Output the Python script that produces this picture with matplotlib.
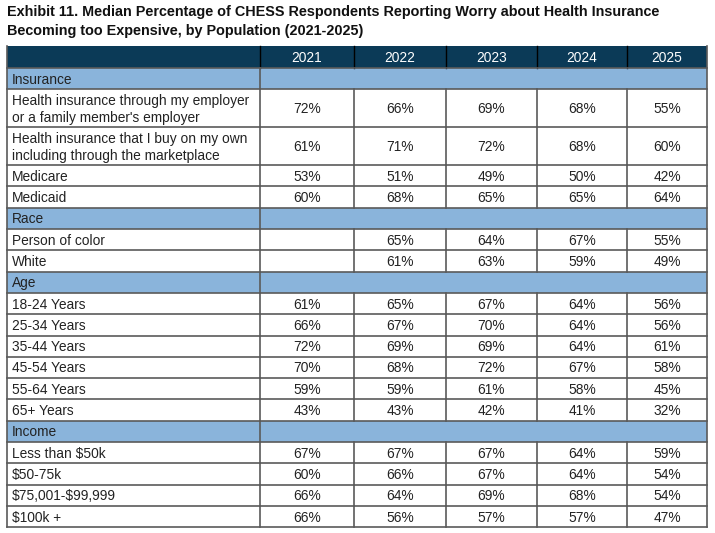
import matplotlib
matplotlib.use("Agg")
import matplotlib.pyplot as plt
from matplotlib.patches import Rectangle

# ---- data ----
years = ["2021", "2022", "2023", "2024", "2025"]

insurance_labels = ["Health insurance through my employer\nor a family member's employer",
                    "Health insurance that I buy on my own\nincluding through the marketplace",
                    "Medicare", "Medicaid"]
insurance_vals = [[72, 66, 69, 68, 55],
                  [61, 71, 72, 68, 60],
                  [53, 51, 49, 50, 42],
                  [60, 68, 65, 65, 64]]

race_labels = ["Person of color", "White"]
race_vals = [[None, 65, 64, 67, 55],
             [None, 61, 63, 59, 49]]

age_labels = ["18-24 Years", "25-34 Years", "35-44 Years", "45-54 Years", "55-64 Years", "65+ Years"]
age_vals = [[61, 65, 67, 64, 56],
            [66, 67, 70, 64, 56],
            [72, 69, 69, 64, 61],
            [70, 68, 72, 67, 58],
            [59, 59, 61, 58, 45],
            [43, 43, 42, 41, 32]]

income_labels = ["Less than $50k", "$50-75k", "$75,001-$99,999", "$100k +"]
income_vals = [[67, 67, 67, 64, 59],
               [60, 66, 67, 64, 54],
               [66, 64, 69, 68, 54],
               [66, 56, 57, 57, 47]]

sections = [("Insurance", insurance_labels, insurance_vals),
            ("Race", race_labels, race_vals),
            ("Age", age_labels, age_vals),
            ("Income", income_labels, income_vals)]

title = ("Exhibit 11. Median Percentage of CHESS Respondents Reporting Worry about Health Insurance\n"
         "Becoming too Expensive, by Population (2021-2025)")

# ---- layout (pixels) ----
W, H = 715, 533
col_edges = [7, 260, 354, 446, 537, 627, 707]
top = 46
row_h = 21.3
head_h = 22
navy = "#0b3a57"
blue = "#8ab4db"
grid_c = "#5a5a5a"
txt_c = "#222222"
font = "Liberation Sans"
fs = 9.9

fig = plt.figure(figsize=(W / 100, H / 100), dpi=100)
ax = fig.add_axes([0, 0, 1, 1])
ax.set_xlim(0, W)
ax.set_ylim(H, 0)
ax.axis("off")

ax.text(7, 5, title, ha="left", va="top", fontsize=10.4, fontweight="bold",
        family=font, color="#111111", linespacing=1.45)

x0, x1 = col_edges[0], col_edges[-1]

# header
ax.add_patch(Rectangle((x0, top), x1 - x0, head_h, facecolor=navy, edgecolor="none"))
for j, yr in enumerate(years):
    cx = (col_edges[j + 1] + col_edges[j + 2]) / 2
    ax.text(cx, top + head_h / 2 + 1, yr, ha="center", va="center", color="white",
            fontsize=fs, family=font)
for xe in col_edges[1:-1]:
    ax.plot([xe, xe], [top, top + head_h], color="black", lw=1)

y = top + head_h
for name, labels, vals in sections:
    ax.add_patch(Rectangle((x0, y), x1 - x0, row_h, facecolor=blue, edgecolor="none"))
    ax.text(x0 + 5, y + row_h / 2 + 1, name, ha="left", va="center", color=txt_c,
            fontsize=fs, family=font)
    ax.plot([x0, x1], [y, y], color=grid_c, lw=1.2)
    ax.plot([col_edges[1]] * 2, [y, y + row_h], color=grid_c, lw=1.2)
    y += row_h
    for lab, row in zip(labels, vals):
        h = row_h * (1.78 if "\n" in lab else 1)
        ax.plot([x0, x1], [y, y], color=grid_c, lw=1.2)
        ax.text(x0 + 5, y + h / 2 + 1, lab, ha="left", va="center", color=txt_c,
                fontsize=fs, family=font, linespacing=1.3, parse_math=False)
        for j, v in enumerate(row):
            if v is not None:
                cx = (col_edges[j + 1] + col_edges[j + 2]) / 2
                ax.text(cx, y + h / 2 + 1, f"{v}%", ha="center", va="center",
                        color=txt_c, fontsize=fs, family=font)
        for xe in col_edges[1:-1]:
            ax.plot([xe, xe], [y, y + h], color=grid_c, lw=1.2)
        y += h

ax.plot([x0, x1], [y, y], color=grid_c, lw=1.2)
ax.plot([x0, x0], [top, y], color=grid_c, lw=1.2)
ax.plot([x1, x1], [top, y], color=grid_c, lw=1.2)

fig.savefig("out.png", dpi=100)
